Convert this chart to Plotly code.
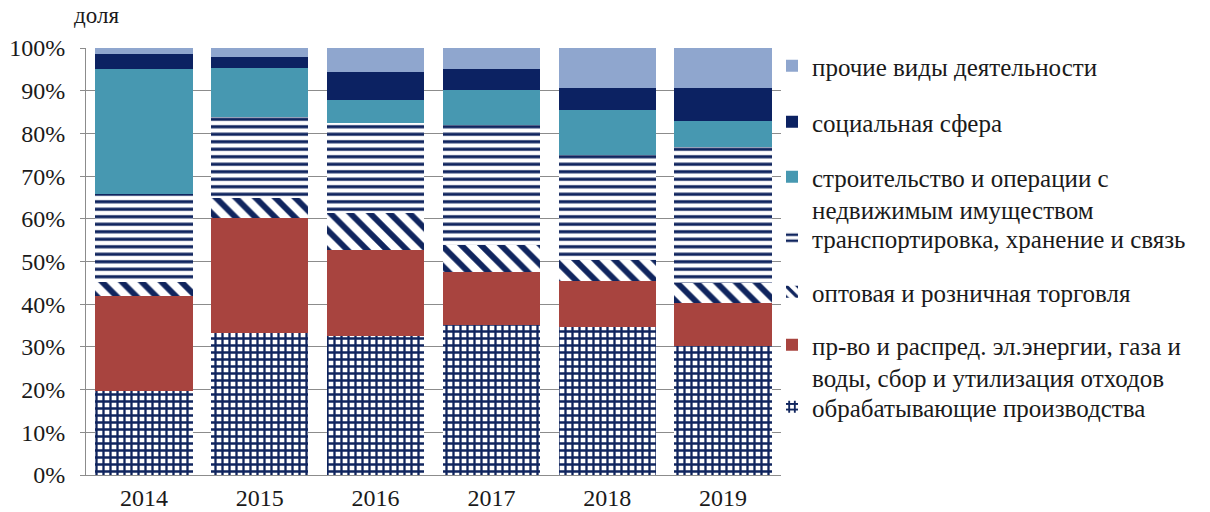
import plotly.graph_objects as go

years = ["2014", "2015", "2016", "2017", "2018", "2019"]

# shares by sector, % of total (bottom to top of each stack)
manufacturing = [19.6, 33.2, 32.6, 35.1, 34.7, 30.2]
energy_utilities = [22.4, 27.0, 20.1, 12.5, 10.8, 10.0]
trade = [3.2, 4.6, 8.6, 6.3, 4.9, 4.7]
transport = [20.6, 19.0, 21.2, 28.1, 24.6, 31.9]
construction = [29.4, 11.6, 5.3, 8.2, 10.5, 6.1]
social = [3.4, 2.4, 6.6, 4.9, 5.2, 7.8]
other = [1.4, 2.2, 5.6, 4.9, 9.3, 9.3]

names = [
    "обрабатывающие производства",
    "пр-во и распред. эл.энергии, газа и<br>воды, сбор и утилизация отходов",
    "оптовая и розничная торговля",
    "транспортировка, хранение и связь",
    "строительство и операции с<br>недвижимым имуществом",
    "социальная сфера",
    "прочие виды деятельности",
]

NAVY = "#10255E"
FONT = "Liberation Serif"
TEXT = "#1a1a1a"
GRID = "#8C8C8C"
W, H = 1210, 512
PLOT_L, PLOT_R, PLOT_T, PLOT_B = 86, 781, 48, 475

series = [manufacturing, energy_utilities, trade, transport, construction, social, other]

styles = [
    dict(color="white", pattern=dict(shape="+", fgcolor=NAVY, bgcolor="white", size=7, solidity=0.55, fillmode="replace")),
    dict(color="#A8443F"),
    dict(color="white", pattern=dict(shape="\\", fgcolor=NAVY, bgcolor="white", size=14, solidity=0.42, fillmode="replace")),
    dict(color="white", pattern=dict(shape="-", fgcolor=NAVY, bgcolor="white", size=7.5, solidity=0.42, fillmode="replace")),
    dict(color="#4798B1"),
    dict(color="#0C2262"),
    dict(color="#8FA6CE"),
]

# legend block centres (pixels from top), one legend per series
legend_y_px = [407, 361, 292, 238, 193, 122, 66]

fig = go.Figure()
for i, (vals, name, st) in enumerate(zip(series, names, styles)):
    lg = "legend" if i == 0 else f"legend{i + 1}"
    fig.add_trace(go.Bar(
        x=years, y=vals, name=name,
        marker=dict(line=dict(width=0), **st),
        legend=lg,
        hoverinfo="skip",
    ))

layout_legends = {}
for i, ypx in enumerate(legend_y_px):
    key = "legend" if i == 0 else f"legend{i + 1}"
    layout_legends[key] = dict(
        xref="container", yref="container",
        x=772 / W, y=1 - ypx / H,
        xanchor="left", yanchor="middle",
        valign="top",
        bgcolor="rgba(0,0,0,0)",
        font=dict(family=FONT, size=25, color=TEXT),
        itemclick=False, itemdoubleclick=False,
    )

fig.update_layout(
    width=W, height=H,
    barmode="stack",
    bargap=0.16,
    plot_bgcolor="white",
    paper_bgcolor="white",
    margin=dict(l=PLOT_L, r=W - PLOT_R, t=PLOT_T, b=H - PLOT_B, autoexpand=False),
    font=dict(family=FONT, size=24, color=TEXT),
    showlegend=True,
    **layout_legends,
)

fig.update_yaxes(
    range=[0, 100], dtick=10, ticksuffix="%",
    showgrid=True, gridcolor=GRID, gridwidth=1,
    showline=True, linecolor=GRID, linewidth=1,
    ticks="outside", ticklen=5, tickcolor=GRID,
    ticklabelstandoff=10,
    tickfont=dict(family=FONT, size=24, color=TEXT),
    zeroline=False, automargin=False,
)
fig.update_xaxes(
    showline=True, linecolor=GRID, linewidth=1,
    showgrid=False, ticks="",
    tickfont=dict(family=FONT, size=24, color=TEXT),
    ticklabelstandoff=1, automargin=False,
)

fig.add_annotation(
    text="доля", xref="paper", yref="paper",
    x=(96 - PLOT_L) / (PLOT_R - PLOT_L),
    y=(PLOT_B - 16) / (PLOT_B - PLOT_T),
    xanchor="center", yanchor="middle",
    showarrow=False,
    font=dict(family=FONT, size=23, color=TEXT),
)

fig.write_html("out.html")
